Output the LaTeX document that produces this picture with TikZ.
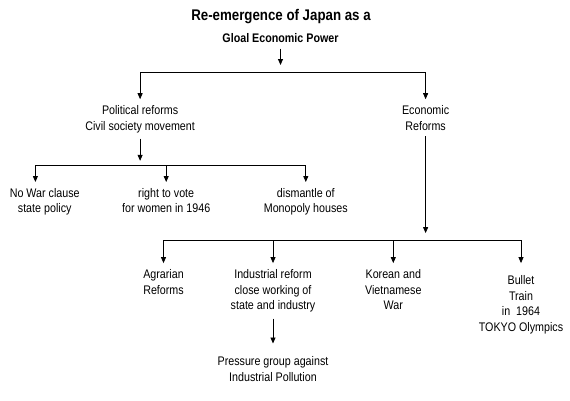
\documentclass[tikz,border=0pt]{standalone}
\usepackage{fontspec}
\setmainfont{Liberation Sans}[FakeStretch=0.86]
\usepackage{tikz}
\usetikzlibrary{arrows.meta}

\begin{document}
\begin{tikzpicture}%
  [x=1bp,y=-1bp,line width=0.8pt,>={Triangle[length=6pt,width=5pt]}]
  \tikzstyle{txt node}=[align=center,inner sep=0,outer xsep=0,outer ysep=6pt,
    anchor=north,font=\fontsize{12.5}{16}\selectfont]
  \tikzstyle{low node}=[txt node,outer ysep=12pt]
  \useasboundingbox (0,0) rectangle (570,400);
  % root
  \node(title)[txt node,font=\bfseries\fontsize{15.5}{18}\selectfont] at (281,3)
    {Re-emergence of Japan as a};
  \node(root)[txt node,font=\bfseries\fontsize{12.5}{16}\selectfont] at (280.5,27.6)
    {Gloal Economic Power};
  % first level
  \node(pol)[txt node] at (140.1,99.2){Political reforms\\Civil society movement};
  \node(eco)[txt node] at (425.6,99.2){Economic\\Reforms};
  % political side
  \node(war)[txt node] at (44.7,182){No War clause\\state policy};
  \node(vote)[txt node] at (166.2,182){right to vote\\for women in 1946};
  \node(mono)[txt node] at (305.8,182){dismantle of\\Monopoly houses};
  % economic side
  \node(agr)[txt node] at (163.5,263.1){Agrarian\\Reforms};
  \node(ind)[txt node] at (273,263.1){Industrial reform\\close working of\\state and industry};
  \node(kor)[txt node] at (393.3,263.1){Korean and\\Vietnamese\\War};
  \node(bul)[low node] at (521,263.1){Bullet\\Train\\in~~1964\\TOKYO Olympics};
  \node(poll)[txt node,outer ysep=12.7pt] at (273,343.5)
    {Pressure group against\\Industrial Pollution};
  % connectors
  \coordinate(j1) at (280.5,65);
  \coordinate(b1) at (0,72);
  \draw[->] (root) -- (j1);
  \draw (pol |- b1) -- (eco |- b1);
  \foreach \n in {pol,eco} \draw[->] (\n |- b1) -- (\n);
  \coordinate(j2) at (140.1,160.8);
  \coordinate(b2) at (35.4,165.1);
  \draw[->] (pol) -- (j2);
  \draw (b2) -- (mono |- b2);
  \draw[->] (b2) -- (b2 |- war.north);
  \foreach \n in {vote,mono} \draw[->] (\n |- b2) -- (\n);
  \coordinate(j3) at (425.6,233.1);
  \coordinate(b3) at (0,240.1);
  \draw[->] (eco) -- (j3);
  \draw (agr |- b3) -- (bul |- b3);
  \foreach \n in {agr,ind,kor,bul} \draw[->] (\n |- b3) -- (\n);
  \draw[->] (ind) -- (poll);
\end{tikzpicture}
\end{document}
